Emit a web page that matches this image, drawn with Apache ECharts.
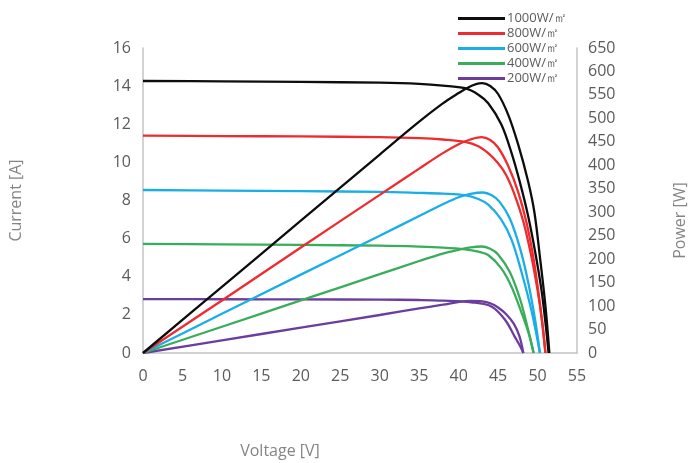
<!DOCTYPE html>
<html>
<head>
<meta charset="utf-8">
<script src="https://cdn.jsdelivr.net/npm/echarts@6/dist/echarts.min.js"></script>
<style>
  html, body { margin: 0; padding: 0; background: #ffffff; }
  #chart { width: 689px; height: 463px; }
</style>
</head>
<body>
<div id="chart"></div>
<script>
// ---- Data ----
const seriesNames = ['1000W/㎡', '800W/㎡', '600W/㎡', '400W/㎡', '200W/㎡'];
const seriesColors = ['#0d0d0d', '#ee2b2e', '#1aaee6', '#3aad5c', '#6a3d9e'];

const xTicks = [0, 5, 10, 15, 20, 25, 30, 35, 40, 45, 50, 55];
const currentTicks = [0, 2, 4, 6, 8, 10, 12, 14, 16];
const powerTicks = [0, 50, 100, 150, 200, 250, 300, 350, 400, 450, 500, 550, 600, 650];

// I-V curves: [voltage V, current A]
const iv1000 = [[0,14.27],[10,14.25],[20,14.22],[30,14.18],[35,14.12],[38,14.03],[40.8,13.89],[42.5,13.55],[43.75,13.1],[45.4,12.0],[46.7,10.5],[47.8,8.9],[48.8,7.2],[49.7,5.3],[50.5,3.3],[51.0,1.6],[51.4,0]];
const iv800  = [[0,11.4],[10,11.38],[20,11.36],[30,11.32],[35,11.27],[38,11.2],[40.8,11.08],[42.5,10.85],[43.75,10.48],[45,9.95],[46,9.35],[47.1,8.3],[48.2,6.9],[49.2,5.1],[50,3.3],[50.6,1.6],[51.0,0]];
const iv600  = [[0,8.55],[10,8.52],[20,8.49],[30,8.45],[35,8.4],[38,8.36],[40.8,8.28],[42.5,8.08],[43.75,7.78],[45.4,7.0],[46.7,5.95],[48.0,4.2],[49.3,2.1],[50.3,0]];
const iv400  = [[0,5.72],[10,5.7],[20,5.67],[30,5.63],[35,5.58],[38,5.53],[40.8,5.44],[42.5,5.32],[43.75,5.14],[45.4,4.44],[46.7,3.48],[48.0,2.08],[48.9,1.0],[49.5,0]];
const iv200  = [[0,2.83],[10,2.82],[20,2.81],[30,2.8],[35,2.78],[38,2.75],[41.6,2.66],[44.2,2.43],[45.9,1.73],[47.1,0.86],[47.8,0.35],[48.2,0]];

// P-V curves: [voltage V, power W]
const pv1000 = [[0,0],[10,141],[20,282],[30,423],[35,493],[38,532],[40,554],[41.2,566],[42.2,573],[43,575],[44,569],[45,552],[46.3,507],[47.55,444],[48.8,366],[49.6,300],[50.3,205],[51,100],[51.5,0]];
const pv800  = [[0,0],[10,112],[20,225],[30,337],[35,393],[38,426],[40,445],[41.5,455],[42.9,460],[44,454],[45,438],[46.3,398],[47.55,343],[48.6,278],[49.5,200],[50.3,105],[51.0,0]];
const pv600  = [[0,0],[10,83.5],[20,167],[30,250],[35,292],[38,317],[40,332],[41.5,339],[43.1,342],[44.2,336],[45.2,322],[46.5,286],[47.8,222],[48.8,152],[49.7,70],[50.3,0]];
const pv400  = [[0,0],[10,56],[20,112],[30,168],[35,196],[38,212],[40,220],[41.5,225],[42.9,227],[44,222],[45,210],[46.5,172],[47.8,114],[48.8,50],[49.5,0]];
const pv200  = [[0,0],[10,27],[20,54],[30,81],[35,95],[38,103],[40.1,109],[41.5,111],[43,110],[44,106],[45,97],[46,83],[47,62],[47.7,36],[48.2,0]];

const ivData = [iv1000, iv800, iv600, iv400, iv200];
const pvData = [pv1000, pv800, pv600, pv400, pv200];

// ---- Chart ----
const chart = echarts.init(document.getElementById('chart'), null, { renderer: 'canvas' });
const FONT = '"Open Sans", "Noto Sans", sans-serif';
const tickColor = '#5b5b5b';
const nameColor = '#858585';
const axisLineColor = '#c4c4c4';

const series = [];
seriesNames.forEach((name, i) => {
  series.push({
    name: name, type: 'line', yAxisIndex: 0, data: ivData[i],
    smooth: 0.35, showSymbol: false, symbol: 'none',
    lineStyle: { color: seriesColors[i], width: 2.3 }, itemStyle: { color: seriesColors[i] },
    silent: true, z: 5 - i
  });
  series.push({
    name: name, type: 'line', yAxisIndex: 1, data: pvData[i],
    smooth: 0.35, showSymbol: false, symbol: 'none',
    lineStyle: { color: seriesColors[i], width: 2.3 }, itemStyle: { color: seriesColors[i] },
    silent: true, z: 5 - i
  });
});

chart.setOption({
  animation: false,
  backgroundColor: '#ffffff',
  grid: { left: 143, right: 112, top: 48, bottom: 110, containLabel: false, outerBoundsMode: 'none' },
  legend: {
    data: seriesNames,
    orient: 'vertical',
    left: 453, top: 7,
    itemWidth: 47, itemHeight: 3, itemGap: 2,
    icon: 'rect',
    textStyle: { fontFamily: FONT, fontSize: 13, color: tickColor, padding: [0, 0, 0, -3], lineHeight: 12 }
  },
  xAxis: {
    type: 'value', min: xTicks[0], max: xTicks[xTicks.length - 1], interval: 5,
    name: 'Voltage [V]', nameLocation: 'middle', nameGap: 90,
    nameTextStyle: { fontFamily: FONT, fontSize: 16, color: nameColor, padding: [0, 160, 0, 0] },
    axisLine: { show: true, lineStyle: { color: axisLineColor, width: 1.5 } },
    axisTick: { show: false },
    splitLine: { show: false },
    axisLabel: { fontFamily: FONT, fontSize: 16, color: tickColor, margin: 15 }
  },
  yAxis: [
    {
      type: 'value', min: currentTicks[0], max: currentTicks[currentTicks.length - 1], interval: 2,
      position: 'left',
      name: 'Current [A]', nameLocation: 'middle', nameGap: 119, nameRotate: 90,
      nameTextStyle: { fontFamily: FONT, fontSize: 16, color: nameColor },
      axisLine: { show: true, lineStyle: { color: axisLineColor, width: 1.5 } },
      axisTick: { show: false },
      splitLine: { show: false },
      axisLabel: { fontFamily: FONT, fontSize: 16, color: tickColor, margin: 12 }
    },
    {
      type: 'value', min: powerTicks[0], max: powerTicks[powerTicks.length - 1], interval: 50,
      position: 'right',
      name: 'Power [W]', nameLocation: 'middle', nameGap: 95, nameRotate: 90,
      nameTextStyle: { fontFamily: FONT, fontSize: 16, color: nameColor, padding: [0, 40, 0, 0] },
      axisLine: { show: true, lineStyle: { color: axisLineColor, width: 1.5 } },
      axisTick: { show: false },
      splitLine: { show: false },
      axisLabel: { fontFamily: FONT, fontSize: 16, color: tickColor, margin: 11 }
    }
  ],
  series: series
});
</script>
</body>
</html>
